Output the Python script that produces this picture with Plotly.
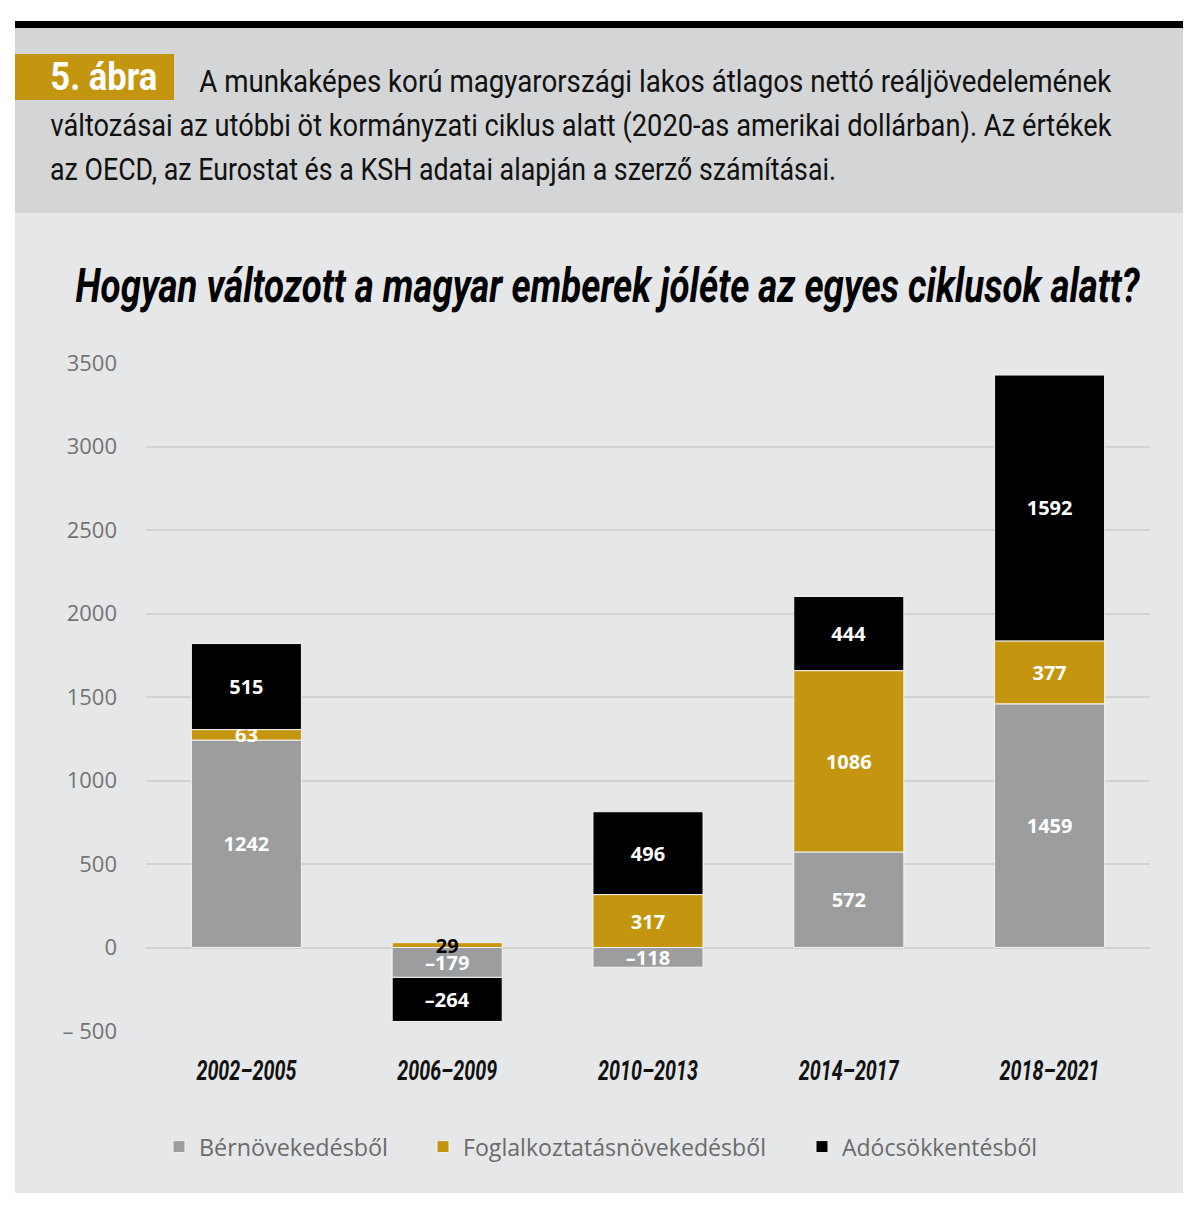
import json
import plotly.graph_objects as go

# ---------------- data ----------------
periods = ["2002–2005", "2006–2009", "2010–2013", "2014–2017", "2018–2021"]
wage_growth = [1242, -179, -118, 572, 1459]          # Bérnövekedésből
employment_growth = [63, 29, 317, 1086, 377]         # Foglalkoztatásnövekedésből
tax_cuts = [515, -264, 496, 444, 1592]               # Adócsökkentésből
series_names = ["Bérnövekedésből", "Foglalkoztatásnövekedésből", "Adócsökkentésből"]
y_tickvals = [-500, 0, 500, 1000, 1500, 2000, 2500, 3000, 3500]
y_ticktext = ["– 500", "0", "500", "1000", "1500", "2000", "2500", "3000", "3500"]

badge_text = "5. ábra"
header_lines = [
    "A munkaképes korú magyarországi lakos átlagos nettó reáljövedelemének",
    "változásai az utóbbi öt kormányzati ciklus alatt (2020-as amerikai dollárban). Az értékek",
    "az OECD, az Eurostat és a KSH adatai alapján a szerző számításai.",
]
chart_title = "Hogyan változott a magyar emberek jóléte az egyes ciklusok alatt?"

# ---------------- styling ----------------
GRAY = "#9b9d9e"
GOLD = "#c4960f"
BLACK = "#000000"
CHART_BG = "#e6e7e9"
HEADER_BG = "#d4d5d7"

W, H = 1200, 1211
L, R, T, B = 146, 50, 363, 180
PW, PH = W - L - R, H - T - B


def px_x(px):
    return (px - L) / PW


def px_y(py):
    return (H - B - py) / PH


def fmt(v):
    return f"–{abs(v)}" if v < 0 else str(v)


def label_colors(vals):
    return ["white" if abs(v) >= 40 else "black" for v in vals]


fig = go.Figure()
series = [wage_growth, employment_growth, tax_cuts]
colors = [GRAY, GOLD, BLACK]
legend_ids = ["legend", "legend2", "legend3"]
for name, vals, col, lid in zip(series_names, series, colors, legend_ids):
    fig.add_trace(go.Bar(
        x=periods, y=vals, name=name,
        marker=dict(color=col, line=dict(color="#f4f4f4", width=1)),
        text=[fmt(v) for v in vals], texttemplate="%{text}",
        textposition="inside", insidetextanchor="middle", textangle=0,
        constraintext="none",
        textfont=dict(family="Open Sans", size=20, weight=700, color=label_colors(vals)),
        legend=lid, hoverinfo="x+y+name",
    ))

shapes = [
    dict(type="rect", xref="paper", yref="paper", x0=px_x(15), x1=px_x(1183),
         y0=px_y(1193), y1=px_y(213), fillcolor=CHART_BG, line_width=0, layer="below"),
    dict(type="rect", xref="paper", yref="paper", x0=px_x(15), x1=px_x(1183),
         y0=px_y(213), y1=px_y(28), fillcolor=HEADER_BG, line_width=0, layer="below"),
    dict(type="rect", xref="paper", yref="paper", x0=px_x(15), x1=px_x(1183),
         y0=px_y(28), y1=px_y(21), fillcolor="#000000", line_width=0, layer="below"),
    dict(type="rect", xref="paper", yref="paper", x0=px_x(15), x1=px_x(174),
         y0=px_y(100), y1=px_y(54), fillcolor=GOLD, line_width=0, layer="below"),
]

head_font = dict(family="Roboto", size=31, color="#111111")
annotations = [
    dict(text=badge_text, x=px_x(103.5), y=px_y(77), xref="paper", yref="paper",
         xanchor="center", yanchor="middle", showarrow=False,
         font=dict(family="Roboto", size=38, weight=700, color="white")),
    dict(text=header_lines[0], x=px_x(655), y=px_y(81), xref="paper", yref="paper",
         xanchor="center", yanchor="middle", showarrow=False, font=head_font),
    dict(text=header_lines[1], x=px_x(580.5), y=px_y(125), xref="paper", yref="paper",
         xanchor="center", yanchor="middle", showarrow=False, font=head_font),
    dict(text=header_lines[2], x=px_x(443), y=px_y(169), xref="paper", yref="paper",
         xanchor="center", yanchor="middle", showarrow=False, font=head_font),
    dict(text=chart_title, x=px_x(608), y=px_y(286), xref="paper", yref="paper",
         xanchor="center", yanchor="middle", showarrow=False,
         font=dict(family="Roboto", size=48, weight=700, style="italic", color="#000000")),
]

legend_common = dict(orientation="h", yanchor="middle", y=px_y(1147), xanchor="left",
                     bgcolor="rgba(0,0,0,0)", borderwidth=0,
                     font=dict(family="Open Sans", size=24, color="#6b6b6b"))

fig.update_layout(
    width=W, height=H,
    margin=dict(l=L, r=R, t=T, b=B, pad=0),
    paper_bgcolor="white", plot_bgcolor="rgba(0,0,0,0)",
    barmode="relative", bargap=0.452,
    shapes=shapes, annotations=annotations,
    legend=dict(legend_common, x=px_x(159)),
    legend2=dict(legend_common, x=px_x(423)),
    legend3=dict(legend_common, x=px_x(802)),
    xaxis=dict(type="category", showgrid=False, showline=False, zeroline=False,
               ticks="", ticklabelstandoff=20,
               tickfont=dict(family="Roboto", size=28, weight=700, style="italic", color="#111111")),
    yaxis=dict(range=[-500, 3500], tickmode="array", tickvals=y_tickvals, ticktext=y_ticktext,
               showgrid=True, gridcolor="#d0d1d3", gridwidth=2, zeroline=False, showline=False,
               ticks="", ticklabelstandoff=28,
               tickfont=dict(family="Open Sans", size=22, color="#737373")),
    showlegend=True,
)

# target rendered widths (px) emulating the condensed typeface of the original
fit_widths = {
    badge_text: 107,
    header_lines[0]: 912,
    header_lines[1]: 1061,
    header_lines[2]: 786,
    chart_title: 1064,
    series_names[0]: 189,
    series_names[1]: 303,
    series_names[2]: 195,
}
for p in periods:
    fit_widths[p] = 100

post_js = """
document.documentElement.style.margin = '0';
document.body.style.margin = '0';
document.body.style.overflow = 'hidden';
var gd = document.getElementById('{plot_id}');
var WID = %s;
function fitText(){
  var els = gd.querySelectorAll('text');
  for (var i = 0; i < els.length; i++) {
    var t = els[i]; var s = t.textContent;
    if (Object.prototype.hasOwnProperty.call(WID, s)) {
      t.setAttribute('textLength', WID[s]);
      t.setAttribute('lengthAdjust', 'spacingAndGlyphs');
    }
  }
}
fitText();
if (gd.on) { gd.on('plotly_afterplot', fitText); }
""" % json.dumps(fit_widths, ensure_ascii=False)

fig.write_html("out.html", post_script=post_js, config={"displayModeBar": False})
